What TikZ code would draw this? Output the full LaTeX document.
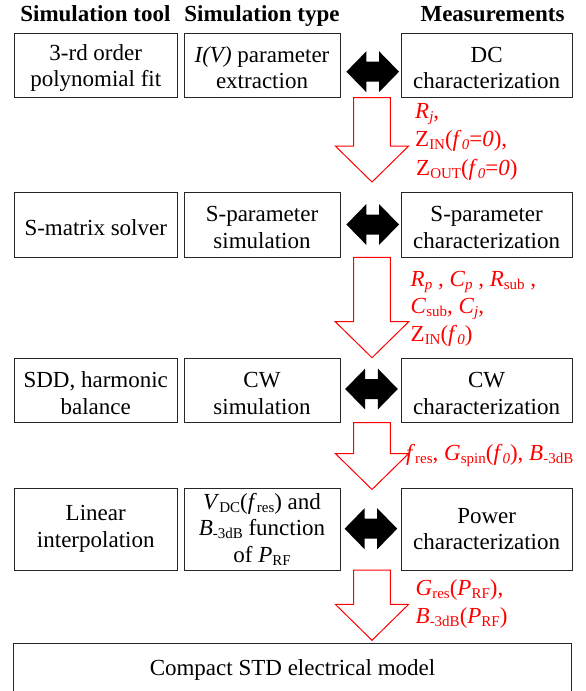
\documentclass[tikz,border=0pt]{standalone}
\usepackage{fontspec}
\setmainfont{Liberation Serif}
\newcommand\sbs[1]{\raisebox{-3.2pt}{\fontsize{15}{15}\selectfont #1}}
\newcommand\iv[1]{\textit{#1}}
\newcommand\tp{\rule{0pt}{20.7pt}}
\newcommand\fsz{\fontsize{23}{26.5}\selectfont}
\newcommand\dblarr[1]{\fill[dblfill] (#1) ++(-26.3,0) -- ++(20,-20.5) -- ++(0,10.5) -- ++(12.6,0) -- ++(0,-10.5) -- ++(20,20.5) -- ++(-20,20.5) -- ++(0,-10.5) -- ++(-12.6,0) -- ++(0,10.5) -- cycle;}
\newcommand\redarr[2]{\draw[flow] (#1) ++(-18.3,0) -- ++(36.6,0) -- ++(0,#2) -- ++(18.4,0) -- ++(-36.7,36) -- ++(-36.7,-36) -- ++(18.4,0) -- cycle;}
\begin{document}
\begin{tikzpicture}[x=1pt,y=-1pt,
  box/.style={draw=black!85, line width=1pt, align=center, inner sep=0pt, font=\fsz},
  hdr/.style={font=\fsz\bfseries, anchor=base, inner sep=0pt},
  lab/.style={text=red, anchor=base west, inner sep=0pt, font=\fsz},
  dblfill/.style={fill=black},
  flow/.style={draw=red, fill=white, line width=1pt, line join=miter},
  c1/.style={box, minimum width=163.5pt},
  c2/.style={box, minimum width=156pt},
  c3/.style={box, minimum width=171.3pt}]
\useasboundingbox (0,0) rectangle (586,691);
\clip (0,0) rectangle (586,691);
% headers
\node[hdr] (h1) at (95.4,21.7) {Simulation tool};
\node[hdr] (h2) at (262,21.7) {Simulation type};
\node[hdr] (h3) at (492.5,21.7) {Measurements};
% row 1
\node[c1, minimum height=64.4pt] (b11) at (95.75,65.5) {\tp 3-rd order\\polynomial fit};
\node[c2, minimum height=64.4pt] (b12) at (262,65.5) {\tp\iv{I(V)} parameter\\extraction};
\node[c3, minimum height=64.4pt] (b13) at (486.65,65.5) {\tp DC\\characterization};
% row 2
\node[c1, minimum height=64.6pt] (b21) at (95.75,225) {\tp S-matrix solver};
\node[c2, minimum height=64.6pt] (b22) at (262,225) {\tp S-parameter\\simulation};
\node[c3, minimum height=64.6pt] (b23) at (486.65,225) {\tp S-parameter\\characterization};
% row 3
\node[c1, minimum height=64.3pt] (b31) at (95.75,390.6) {\tp SDD, harmonic\\balance};
\node[c2, minimum height=64.3pt] (b32) at (262,390.6) {\tp CW\\simulation};
\node[c3, minimum height=64.3pt] (b33) at (486.65,390.6) {\tp CW\\characterization};
% row 4
\node[c1, minimum height=82pt] (b41) at (95.75,529) {Linear\\interpolation};
\node[c2, minimum height=82pt] (b42) at (262,529) {\iv{V}\sbs{DC}(\iv{f}\sbs{res}) and\\\iv{B}\sbs{-3dB} function\\of \iv{P}\sbs{RF}};
\node[c3, minimum height=82pt] (b43) at (486.65,529) {Power\\characterization};
% bottom model box
\draw[draw=black!85, line width=1pt] (13.5,643.3) rectangle (571.5,710);
\node[font=\fsz, anchor=base, inner sep=0pt] (model) at (292.5,675) {Compact STD electrical model};
% double arrows
\coordinate (d1) at (372.7,71.7);
\coordinate (d2) at (372.7,224.5);
\coordinate (d3) at (371.5,389);
\coordinate (d4) at (370.9,528.7);
\dblarr{d1}
\dblarr{d2}
\dblarr{d3}
\dblarr{d4}
% red flow arrows
\coordinate (r1) at (372,97.7);
\coordinate (r2) at (372,257.3);
\coordinate (r3) at (372,422.7);
\coordinate (r4) at (372,570);
\redarr{r1}{48.3}
\redarr{r2}{64.4}
\redarr{r3}{30.8}
\redarr{r4}{34.3}
% labels
\node[lab] (l1a) at (415,118) {\iv{R}\sbs{\iv{j}},};
\node[lab] (l1b) at (415,146.7) {Z\sbs{IN}(\iv{f}\sbs{\iv{0}}=\iv{0}),};
\node[lab] (l1c) at (416,175) {Z\sbs{OUT}(\iv{f}\sbs{\iv{0}}=\iv{0})};
\node[lab] (l2a) at (410.5,286.7) {\iv{R}\sbs{\iv{p}} , \iv{C}\sbs{\iv{p}} , \iv{R}\sbs{sub} ,};
\node[lab] (l2b) at (410.5,313.3) {\iv{C}\sbs{sub}, \iv{C}\sbs{\iv{j}},};
\node[lab] (l2c) at (410.5,341.7) {Z\sbs{IN}(\iv{f}\sbs{\iv{0}})};
\node[lab] (l3a) at (406,460) {\iv{f}\sbs{res}, \iv{G}\sbs{spin}(\iv{f}\sbs{\iv{0}}), \iv{B}\sbs{-3dB}};
\node[lab] (l4a) at (415.5,595.7) {\iv{G}\sbs{res}(\iv{P}\sbs{RF}),};
\node[lab] (l4b) at (415.5,623.3) {\iv{B}\sbs{-3dB}(\iv{P}\sbs{RF})};
\end{tikzpicture}
\end{document}
